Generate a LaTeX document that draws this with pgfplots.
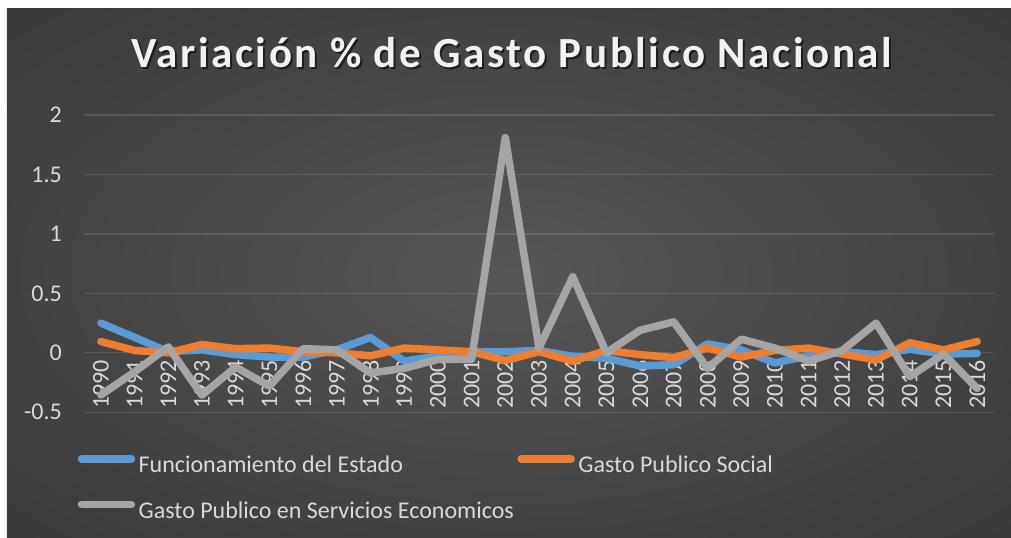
\documentclass[border=0pt]{standalone}
\usepackage{pgfplots}
\pgfplotsset{compat=1.18}
\usepackage{fontspec}
\setmainfont{Carlito}
\newfontfamily\titlefont{Carlito}[LetterSpace=6]
\definecolor{serblue}{RGB}{91,155,213}
\definecolor{serorange}{RGB}{237,125,49}
\definecolor{sergray}{RGB}{165,165,165}
\definecolor{tickc}{RGB}{217,217,217}
\definecolor{bgin}{RGB}{86,86,86}
\definecolor{bgmid}{RGB}{46,46,46}
\definecolor{bgout}{RGB}{36,36,36}
\pgfdeclareradialshading{bgshade}{\pgfpoint{0bp}{0bp}}{color(0bp)=(bgin); color(50bp)=(bgmid); color(72bp)=(bgout)}

\pgfplotstableread{
year fe gs ge
1990 0.25 0.095 -0.355
1991 0.13 0.02 -0.16
1992 0.01 0.0 0.05
1993 0.025 0.07 -0.355
1994 -0.015 0.035 -0.12
1995 -0.035 0.04 -0.28
1996 -0.035 0.01 0.035
1997 0.025 0.0 0.025
1998 0.13 -0.025 -0.17
1999 -0.07 0.04 -0.13
2000 -0.025 0.025 -0.055
2001 0.01 0.01 -0.055
2002 0.01 -0.065 1.81
2003 0.02 0.01 0.04
2004 -0.03 -0.07 0.64
2005 -0.045 0.02 0.0
2006 -0.11 -0.015 0.19
2007 -0.1 -0.04 0.26
2008 0.075 0.04 -0.13
2009 0.025 -0.035 0.115
2010 -0.085 0.02 0.04
2011 -0.025 0.04 -0.07
2012 0.01 -0.01 0.02
2013 -0.015 -0.06 0.25
2014 0.03 0.085 -0.2
2015 -0.01 0.025 -0.01
2016 -0.005 0.095 -0.3
}\datatable

\begin{document}
\begin{tikzpicture}
\begin{axis}[
  set layers, clip=false,
  at={(84bp,124.7bp)}, anchor=south west,
  width=910bp, height=297.3bp, scale only axis,
  xmin=1989.5, xmax=2016.5, ymin=-0.5, ymax=2,
  xtick={1990,...,2016},
  ytick={-0.5,0,0.5,1,1.5,2},
  /pgf/number format/assume math mode=true,
  x tick label style={/pgf/number format/1000 sep={}},
  xticklabel style={font=\fontsize{24bp}{28bp}\selectfont, text=tickc, yshift=52.3bp, rotate=90, anchor=east, inner sep=0pt},
  yticklabel style={font=\fontsize{24bp}{28bp}\selectfont, text=tickc, inner sep=0pt, xshift=-22bp},
  tick style={draw=none},
  axis line style={draw=none},
  ymajorgrids,
  major grid style={white, opacity=0.12, line width=1.3bp},
  every axis plot/.append style={line width=7.5bp, line cap=round, line join=round, mark=none},
  legend columns=2,
  legend image code/.code={\path (0bp,0bp) (57bp,0bp); \draw[#1, line cap=round] (3.5bp,8bp) -- (53.5bp,8bp);},
  legend style={draw=none, fill=none, text=tickc, font=\fontsize{24bp}{28bp}\selectfont,
    at={(axis description cs:-0.011,-0.1436)}, anchor=north west,
    inner xsep=0pt, inner ysep=0pt, row sep=23bp, column sep=0pt,
    nodes={inner ysep=0pt, inner xsep=0bp, text height=17bp, text depth=5bp}},
  legend cell align=left,
]
\pgfplotsextra{%
\begin{pgfonlayer}{axis background}
\fill[white] (rel axis cs:-0.092308,-0.419442) rectangle (rel axis cs:1.018681,1.386822);
\shade[shading=bgshade] (rel axis cs:-0.084615,-0.419442) rectangle (rel axis cs:1.018681,1.356542);
\end{pgfonlayer}
\begin{pgfonlayer}{axis foreground}
\node[anchor=base, font=\titlefont\bfseries\fontsize{43bp}{48bp}\selectfont, text=black, opacity=0.55] at (rel axis cs:0.47198,1.15136) {Variación \% de Gasto Publico Nacional};
\node[anchor=base, font=\titlefont\bfseries\fontsize{43bp}{48bp}\selectfont, text=white!95!black] at (rel axis cs:0.46978,1.15809) {Variación \% de Gasto Publico Nacional};
\end{pgfonlayer}}
\addplot[serblue] table[x=year, y=fe] {\datatable};
\addlegendentry{Funcionamiento del Estado}
\addplot[serorange] table[x=year, y=gs] {\datatable};
\addlegendentry{Gasto Publico Social}
\addplot[sergray] table[x=year, y=ge] {\datatable};
\addlegendentry{Gasto Publico en Servicios Economicos}
\end{axis}
\end{tikzpicture}
\end{document}
